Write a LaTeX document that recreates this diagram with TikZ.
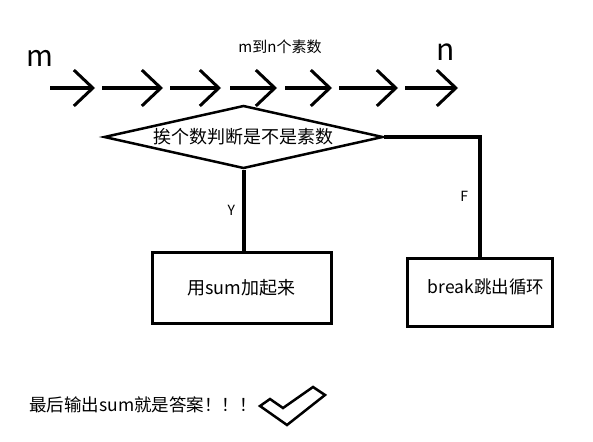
\documentclass[tikz,border=0pt]{standalone}
\usepackage{fontspec}
\setmainfont{Noto Sans CJK SC}
\usetikzlibrary{
	positioning,
	arrows.meta,
	shapes.geometric
}

\begin{document}
\begin{tikzpicture}[x=1pt,y=-1pt,
	hop/.style={line width=4pt,-{Straight Barb[length=19pt,width=36pt,line width=3pt]}},
	decision/.style={draw,line width=2.5pt,shape=diamond,aspect=4.4,inner sep=0pt,
		minimum width=279pt,minimum height=63pt,font=\fontsize{18}{20}\selectfont},
	action/.style={draw,line width=3pt,rectangle,inner sep=0pt,font=\fontsize{18}{20}\selectfont},
	flow/.style={line width=4pt},
	tag/.style={font=\fontsize{14}{16}\selectfont}
]
	\useasboundingbox (0,0) rectangle (593,441);

	% the run of numbers from m to n
	\node[font=\fontsize{29}{31}\selectfont] (m) at (40,58) {m};
	\node[font=\fontsize{30}{32}\selectfont] (n) at (446,52) {n};
	\node[font=\fontsize{15}{17}\selectfont] (range) at (280,47) {m到n个素数};
	\foreach \a/\b [count=\i] in {50/95,102/163,170/221,230/277,285/332,339/398,405/458} {
		\coordinate (s\i) at (\a,88);
		\coordinate (e\i) at (\b,88);
		\draw[hop] (s\i) -- (e\i);
	}

	\draw
		node [decision]                                   (test) at (243.5,137) {挨个数判断是不是素数}
		node [action,minimum width=179pt,minimum height=71pt] (sum)  at (241.5,287.5) {用sum加起来}
		node [action,minimum width=145pt,minimum height=68pt] (stop) at (479.5,292) {}
		node [font=\fontsize{17.5}{19}\selectfont]        (stoptext) at (486,287) {break跳出循环}
	;
	\draw[flow] (test.south) -- (test.south |- sum.north)
		node[tag,midway,left=3pt] (yes) {Y};
	\draw[flow] (test.east) -| (stop.north)
		node[tag,pos=0.75,left=6pt] (no) {F};

	% answer line
	\node[anchor=west,inner sep=0pt,font=\fontsize{17.5}{19}\selectfont] (answer) at (29,405) {最后输出sum就是答案！！！};
	\draw[line width=2.5pt,line join=miter]
		(260,406) -- (270,399) -- (283,408) -- (313,387) -- (325,395) -- (287,425) -- cycle;
\end{tikzpicture}
\end{document}
